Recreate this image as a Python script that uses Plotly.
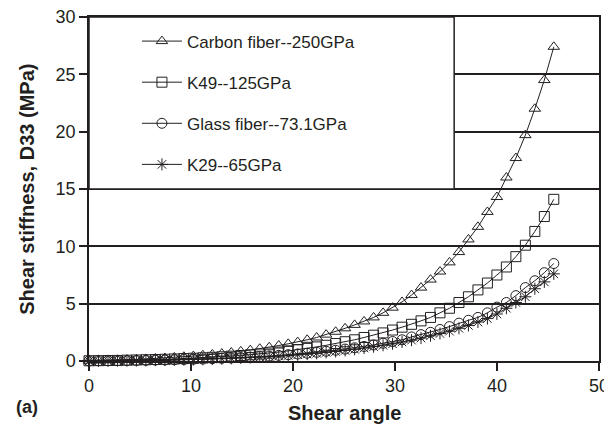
import plotly.graph_objects as go

# shear angle (deg) sampled by the source data
angle = [0.0, 0.93, 1.86, 2.79, 3.72, 4.65, 5.58, 6.51, 7.44, 8.37,
         9.3, 10.23, 11.16, 12.09, 13.02, 13.95, 14.88, 15.81, 16.74, 17.67,
         18.6, 19.53, 20.46, 21.39, 22.32, 23.25, 24.18, 25.11, 26.04, 26.97,
         27.9, 28.83, 29.76, 30.69, 31.62, 32.55, 33.48, 34.41, 35.34, 36.27,
         37.2, 38.13, 39.06, 39.99, 40.92, 41.85, 42.78, 43.71, 44.64, 45.57]

carbon = [0.03, 0.04, 0.06, 0.08, 0.11, 0.14, 0.18, 0.22, 0.26, 0.31,
          0.37, 0.43, 0.5, 0.57, 0.65, 0.74, 0.84, 0.95, 1.07, 1.2,
          1.35, 1.5, 1.65, 1.85, 2.05, 2.3, 2.55, 2.85, 3.15, 3.45,
          3.8, 4.2, 4.65, 5.15, 5.75, 6.4, 7.1, 7.8, 8.6, 9.5,
          10.6, 11.7, 13.0, 14.3, 16.0, 17.7, 19.7, 22.0, 24.5, 27.4]

k49 = [0.02, 0.03, 0.04, 0.05, 0.07, 0.09, 0.11, 0.13, 0.15, 0.18,
       0.21, 0.24, 0.28, 0.32, 0.37, 0.42, 0.48, 0.54, 0.61, 0.69,
       0.78, 0.88, 0.98, 1.1, 1.23, 1.37, 1.52, 1.68, 1.85, 2.05,
       2.25, 2.45, 2.7, 2.95, 3.2, 3.5, 3.8, 4.2, 4.6, 5.1,
       5.6, 6.2, 6.8, 7.5, 8.2, 9.1, 10.1, 11.3, 12.6, 14.1]

glass = [0.01, 0.02, 0.02, 0.03, 0.04, 0.05, 0.06, 0.08, 0.09, 0.11,
         0.13, 0.15, 0.17, 0.2, 0.23, 0.26, 0.3, 0.34, 0.38, 0.43,
         0.49, 0.55, 0.61, 0.68, 0.76, 0.85, 0.94, 1.04, 1.15, 1.27,
         1.4, 1.55, 1.7, 1.85, 2.1, 2.3, 2.5, 2.75, 3.0, 3.3,
         3.55, 3.8, 4.2, 4.7, 5.1, 5.7, 6.4, 7.0, 7.7, 8.5]

k29 = [0.01, 0.01, 0.02, 0.03, 0.03, 0.04, 0.05, 0.07, 0.08, 0.1,
       0.11, 0.13, 0.15, 0.17, 0.2, 0.23, 0.26, 0.3, 0.34, 0.38,
       0.43, 0.48, 0.54, 0.6, 0.67, 0.75, 0.83, 0.92, 1.02, 1.13,
       1.25, 1.37, 1.5, 1.66, 1.82, 2.0, 2.2, 2.4, 2.6, 2.85,
       3.1, 3.4, 3.7, 4.1, 4.6, 5.1, 5.6, 6.3, 6.9, 7.6]

names = ["Carbon fiber--250GPa", "K49--125GPa", "Glass fiber--73.1GPa", "K29--65GPa"]
symbols = ["triangle-up-open", "square-open", "circle-open", "asterisk-open"]
INK = "#231f20"
FONT = "Liberation Sans, Arial, sans-serif"

fig = go.Figure()
for i, (name, ys, sym) in enumerate(zip(names, [carbon, k49, glass, k29], symbols)):
    fig.add_trace(go.Scatter(
        x=angle, y=ys, mode="lines+markers", name=name, legendgroup=f"g{i}",
        line=dict(color=INK, width=1),
        marker=dict(symbol=sym, size=10, color=INK, line=dict(color=INK, width=1)),
        cliponaxis=False))

# white legend box sitting over the upper-left of the plot
fig.add_shape(type="rect", xref="x", yref="y", x0=0, x1=35.8, y0=15, y1=30,
              fillcolor="white", line=dict(color=INK, width=1.5), layer="above")

ann_font = dict(size=20, color=INK, family=FONT)
fig.add_annotation(text="<b>Shear angle</b>", xref="paper", yref="paper",
                   x=0.5, y=-0.151, xanchor="center", yanchor="middle",
                   showarrow=False, font=ann_font)
fig.add_annotation(text="<b>Shear stiffness, D33 (MPa)</b>", xref="paper", yref="paper",
                   x=-0.122, y=0.5, xanchor="center", yanchor="middle", textangle=-90,
                   showarrow=False, font=ann_font)
fig.add_annotation(text="<b>(a)</b>", xref="paper", yref="paper", x=-0.147, y=-0.134,
                   xanchor="left", yanchor="middle", showarrow=False,
                   font=dict(size=18, color=INK, family=FONT))

# the page puts an 8px body margin around the plot div
fig.update_layout(
    width=604, height=420,
    margin=dict(l=81, r=13, t=9, b=67),
    paper_bgcolor="white", plot_bgcolor="white",
    font=dict(family=FONT, size=18, color=INK),
    showlegend=True,
    legend=dict(x=0.094, y=0.981, xanchor="left", yanchor="top",
                bgcolor="rgba(0,0,0,0)", borderwidth=0,
                traceorder="grouped", tracegroupgap=16, itemwidth=40,
                font=dict(size=17, color=INK, family=FONT)),
    xaxis=dict(range=[0, 50], dtick=10, showgrid=False, zeroline=False, automargin=False,
               showline=True, linecolor=INK, linewidth=1.5, mirror=True,
               ticks="outside", ticklen=8, tickcolor=INK, tickwidth=1.5,
               ticklabeloverflow="allow"),
    yaxis=dict(range=[0, 30], dtick=5, showgrid=True, gridcolor=INK, gridwidth=1.5,
               zeroline=False, automargin=False,
               showline=True, linecolor=INK, linewidth=1.5, mirror=True,
               ticks="outside", ticklen=8, tickcolor=INK, tickwidth=1.5,
               ticklabeloverflow="allow"),
)

fig.write_html("out.html")
